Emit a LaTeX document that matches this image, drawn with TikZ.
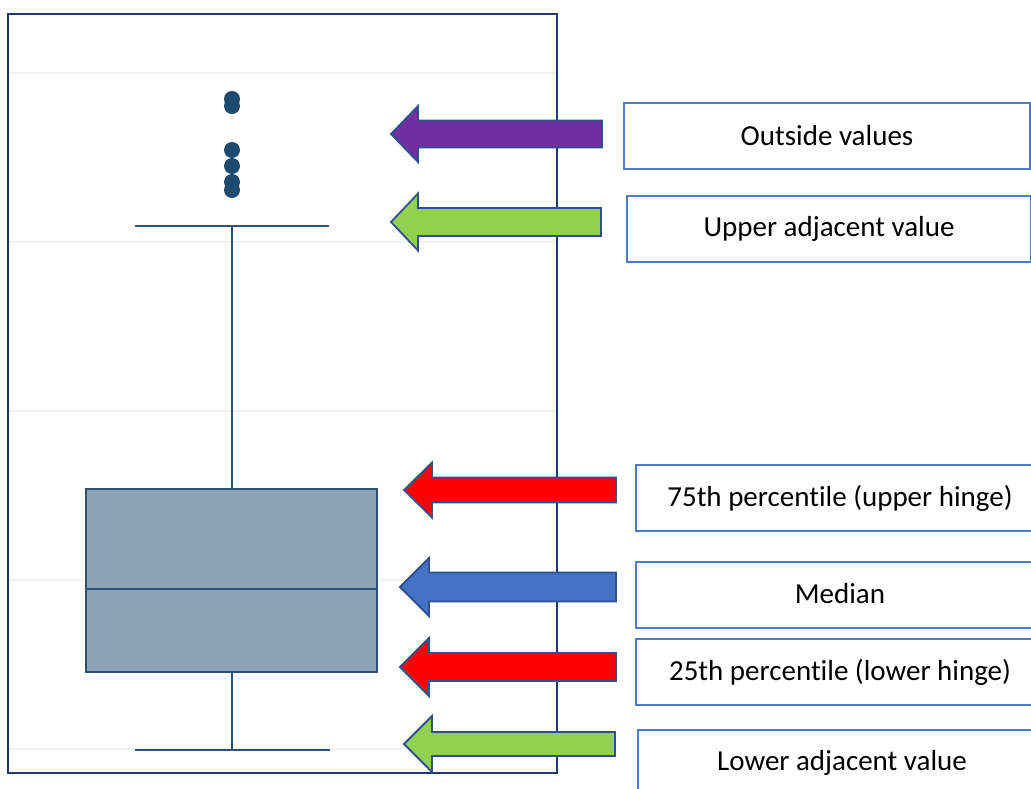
\documentclass[tikz,border=0pt]{standalone}
\usepackage{fontspec}
\setmainfont[Ligatures=NoCommon]{Carlito}
\definecolor{framec}{HTML}{1F3A6B}
\definecolor{gridc}{HTML}{EDF2F2}
\definecolor{boxfill}{HTML}{8CA3B7}
\definecolor{boxline}{HTML}{2E5273}
\definecolor{dotc}{HTML}{1F4A70}
\definecolor{arrline}{HTML}{2F528F}
\definecolor{purp}{HTML}{7030A0}
\definecolor{grn}{HTML}{92D050}
\definecolor{redc}{HTML}{FF0000}
\definecolor{bluec}{HTML}{4472C4}
\definecolor{lblline}{HTML}{4F7BCB}
\newcommand{\blockarr}[7]{% tipx, y, rightx, shaft half, head half, head base x, colour
  \filldraw[arrstyle, fill=#7] (#1,#2) -- (#6,{#2-#5}) -- (#6,{#2-#4}) -- (#3,{#2-#4}) -- (#3,{#2+#4}) -- (#6,{#2+#4}) -- (#6,{#2+#5}) -- cycle;}
\begin{document}
\begin{tikzpicture}[x=1pt,y=-1pt,
  gridline/.style={draw=gridc, line width=2pt},
  framebox/.style={draw=framec, line width=1.8pt},
  plotline/.style={draw=boxline, line width=2pt},
  arrstyle/.style={draw=arrline, line width=1.8pt, line join=miter},
  lbl/.style={draw=lblline, line width=2pt, fill=white, minimum height=66pt, inner sep=0pt, font=\fontsize{29}{34}\selectfont, text=black}]
\useasboundingbox (0,0) rectangle (1031,788);
\clip (0,0) rectangle (1031,788);
\fill[white] (0,0) rectangle (1031,788);
% grid lines
\foreach \gy in {73,242,411,580,749} \draw[gridline] (9,\gy) -- (556,\gy);
% frame
\draw[framebox] (8,14) rectangle (557,773);
% box plot
\coordinate (uw) at (232,226);
\coordinate (lw) at (232,750);
\coordinate (q3) at (232,489);
\coordinate (q1) at (232,672);
\draw[plotline, fill=boxfill] (86,489) rectangle (377,672);
\draw[plotline] (86,589) -- (377,589);
\draw[plotline] (uw) -- (q3);
\draw[plotline] (q1) -- (lw);
\draw[plotline] (135,226) -- (329,226);
\draw[plotline] (135,750) -- (330,750);
% outside values
\foreach \dy in {99,106,150,166,182,190} \fill[dotc] (232,\dy) circle (8);
% arrows
\blockarr{391}{134}{602}{13.5}{28}{418}{purp}
\blockarr{391}{222}{601}{14}{28.5}{418}{grn}
\blockarr{404}{490}{616}{12.5}{27.5}{432}{redc}
\blockarr{400}{587}{616}{14.5}{29}{429}{bluec}
\blockarr{400}{667}{616}{14}{29}{429}{redc}
\blockarr{404}{744}{615}{12}{28}{432}{grn}
% labels
\node[lbl, minimum width=406pt] (outv) at (827,136) {\raisebox{2pt}{Outside values}};
\node[lbl, minimum width=404pt] (uav) at (829,228.5) {\raisebox{2pt}{Upper adjacent value}};
\node[lbl, minimum width=408pt] (p75) at (840,498) {\raisebox{2pt}{75th percentile (upper hinge)}};
\node[lbl, minimum width=408pt] (med) at (840,594.5) {\raisebox{2pt}{Median}};
\node[lbl, minimum width=408pt] (p25) at (840,672) {\raisebox{2pt}{25th percentile (lower hinge)}};
\node[lbl, minimum width=408pt] (lav) at (842,763) {\raisebox{2pt}{Lower adjacent value}};
\end{tikzpicture}
\end{document}
